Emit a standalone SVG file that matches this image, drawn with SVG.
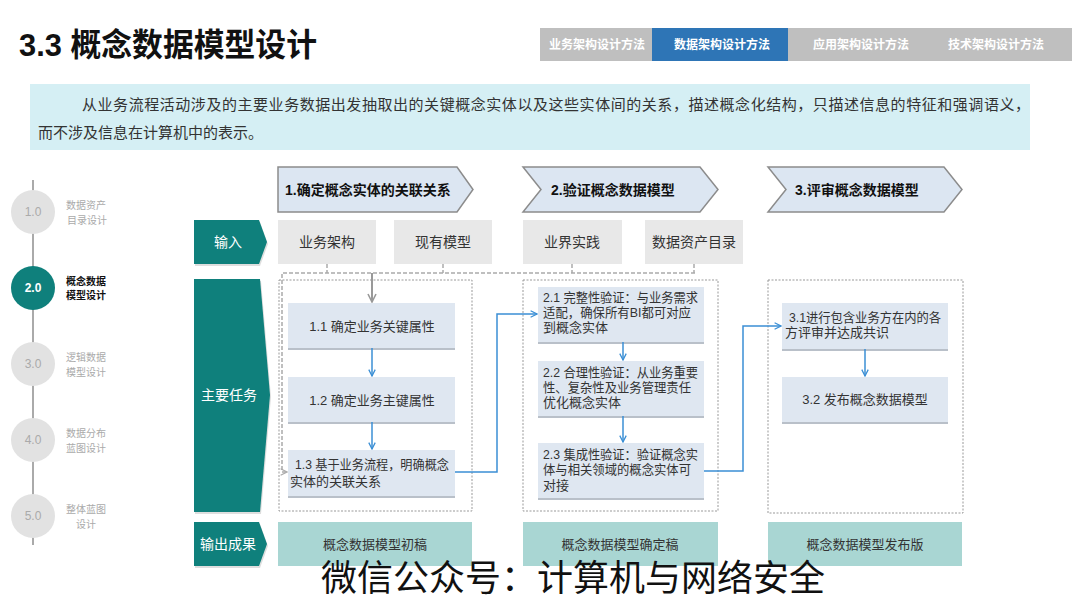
<svg xmlns="http://www.w3.org/2000/svg" width="1080" height="608" viewBox="0 0 1080 608">
<defs>
<style>
text{font-family:"Liberation Sans","Noto Sans CJK SC",sans-serif;}
.tab{font-size:12px;font-weight:bold;fill:#fff;text-anchor:middle;}
.desc{font-size:15px;fill:#333;}
.tl{font-size:10px;fill:#aaa;text-anchor:middle;}
.tln{font-size:12px;fill:#aaa;text-anchor:middle;}
.hdr{fill:#dce6f2;stroke:#8c8c8c;stroke-width:1.5;}
.hdrt{font-size:14px;font-weight:bold;fill:#111;}
.row{fill:#0f807c;}
.rowt{font-size:14px;fill:#fff;text-anchor:middle;}
.inp{fill:#e8e8e8;}
.inpt{font-size:14px;fill:#333;text-anchor:middle;}
.dash{fill:none;stroke:#999;stroke-width:1;stroke-dasharray:2,1.5;}
.dash2{fill:none;stroke:#aaa;stroke-width:1.5;stroke-dasharray:4,2;}
.task{fill:#dfe7f1;}
.shadow{fill:#b9c0c9;}
.tt{font-size:13px;fill:#333;}
.ttc{font-size:13px;fill:#333;text-anchor:middle;}
.out{fill:#a9d6d3;}
.outt{font-size:13px;fill:#333;text-anchor:middle;}
.blue{fill:none;stroke:#3b8fd5;stroke-width:1.5;}
.gray{fill:none;stroke:#999;stroke-width:2;}
</style>
<marker id="ab" viewBox="0 0 10 10" refX="9" refY="5" markerWidth="8" markerHeight="8" orient="auto" markerUnits="userSpaceOnUse">
<path d="M1,1 L9,5 L1,9" fill="none" stroke="#3b8fd5" stroke-width="1.6"/>
</marker>
<marker id="ag" viewBox="0 0 10 10" refX="9" refY="5" markerWidth="10" markerHeight="10" orient="auto" markerUnits="userSpaceOnUse">
<path d="M1,1 L9,5 L1,9" fill="none" stroke="#999" stroke-width="1.6"/>
</marker>
<marker id="ag2" viewBox="0 0 10 10" refX="9" refY="5" markerWidth="8" markerHeight="8" orient="auto" markerUnits="userSpaceOnUse">
<path d="M1,1 L9,5 L1,9" fill="none" stroke="#aaa" stroke-width="1.4"/>
</marker>
</defs>
<rect width="1080" height="608" fill="#fff"/>

<g id="title">
<text x="19" y="56" font-size="32" font-weight="bold" fill="#111" textLength="298" lengthAdjust="spacingAndGlyphs">3.3 概念数据模型设计</text>
</g>

<g id="tabs">
<rect x="540" y="28" width="112" height="33" fill="#bfbfbf"/>
<rect x="652" y="28" width="136" height="33" fill="#2e75b6"/>
<rect x="788" y="28" width="132" height="33" fill="#bfbfbf"/>
<rect x="920" y="28" width="152" height="33" fill="#bfbfbf"/>
<text class="tab" x="597" y="49">业务架构设计方法</text>
<text class="tab" x="722" y="49">数据架构设计方法</text>
<text class="tab" x="861" y="49">应用架构设计方法</text>
<text class="tab" x="996" y="49">技术架构设计方法</text>
</g>

<g id="description">
<rect x="30" y="84" width="1000" height="66" fill="#d5eff4"/>
<text class="desc" x="82" y="110" textLength="948" lengthAdjust="spacing">从业务流程活动涉及的主要业务数据出发抽取出的关键概念实体以及这些实体间的关系，描述概念化结构，只描述信息的特征和强调语义，</text>
<text class="desc" x="38" y="138">而不涉及信息在计算机中的表示。</text>
</g>

<g id="timeline">
<line x1="33" y1="180" x2="33" y2="545" stroke="#aaa" stroke-width="2"/>
<g id="step1">
<circle cx="33" cy="212" r="22" fill="#e2e2e2"/>
<text class="tln" x="33" y="216">1.0</text>
<text class="tl" x="86" y="209">数据资产</text>
<text class="tl" x="87" y="224">目录设计</text>
</g>
<g id="step2">
<circle cx="33" cy="288" r="22" fill="#0f807c"/>
<text x="33" y="292" font-size="12" font-weight="bold" fill="#fff" text-anchor="middle">2.0</text>
<text x="66" y="285" font-size="10" font-weight="bold" fill="#111">概念数据</text>
<text x="66" y="299" font-size="10" font-weight="bold" fill="#111">模型设计</text>
</g>
<g id="step3">
<circle cx="33" cy="364" r="22" fill="#e2e2e2"/>
<text class="tln" x="33" y="368">3.0</text>
<text class="tl" x="86" y="361">逻辑数据</text>
<text class="tl" x="86" y="376">模型设计</text>
</g>
<g id="step4">
<circle cx="33" cy="440" r="22" fill="#e2e2e2"/>
<text class="tln" x="33" y="444">4.0</text>
<text class="tl" x="86" y="437">数据分布</text>
<text class="tl" x="86" y="452">蓝图设计</text>
</g>
<g id="step5">
<circle cx="33" cy="516" r="22" fill="#e2e2e2"/>
<text class="tln" x="33" y="520">5.0</text>
<text class="tl" x="86" y="513">整体蓝图</text>
<text class="tl" x="86" y="528">设计</text>
</g>
</g>

<g id="headers">
<g id="h1">
<polygon class="hdr" points="278,167 457,167 473,189.5 457,212 278,212"/>
<text class="hdrt" x="285" y="195">1.确定概念实体的关联关系</text>
</g>
<g id="h2">
<polygon class="hdr" points="523,167 700,167 718,189.5 700,212 523,212 541,189.5"/>
<text class="hdrt" x="551" y="195">2.验证概念数据模型</text>
</g>
<g id="h3">
<polygon class="hdr" points="768,167 944,167 962,189.5 944,212 768,212 786,189.5"/>
<text class="hdrt" x="795" y="195">3.评审概念数据模型</text>
</g>
</g>

<g id="rowlabels">
<g id="r-input">
<polygon points="195,222 260,222 268,244 260,266 195,266" fill="#c8c8c8" opacity="0.6"/>
<polygon class="row" points="194,220 259,220 267,242 259,264 194,264"/>
<text class="rowt" x="228" y="247">输入</text>
</g>
<g id="r-task">
<polygon points="195,281 261,281 271,397 261,514 195,514" fill="#c8c8c8" opacity="0.6"/>
<polygon class="row" points="194,279 260,279 270,395 260,512 194,512"/>
<text class="rowt" x="229" y="400">主要任务</text>
</g>
<g id="r-output">
<polygon points="195,524 260,524 268,546 260,568 195,568" fill="#c8c8c8" opacity="0.6"/>
<polygon class="row" points="194,522 259,522 267,544 259,566 194,566"/>
<text class="rowt" x="228" y="549">输出成果</text>
</g>
</g>

<g id="inputs">
<g id="in1"><rect class="inp" x="278" y="220" width="98" height="44"/><text class="inpt" x="327" y="247">业务架构</text></g>
<g id="in2"><rect class="inp" x="394" y="220" width="98" height="44"/><text class="inpt" x="443" y="247">现有模型</text></g>
<g id="in3"><rect class="inp" x="523" y="220" width="99" height="44"/><text class="inpt" x="572" y="247">业界实践</text></g>
<g id="in4"><rect class="inp" x="645" y="220" width="98" height="44"/><text class="inpt" x="694" y="247">数据资产目录</text></g>
</g>

<g id="taskframes">
<rect class="dash" x="279" y="280" width="193" height="231"/>
<rect class="dash" x="523" y="280" width="195" height="231"/>
<rect class="dash" x="768" y="280" width="195" height="233"/>
</g>

<g id="tasks">
<g id="t11">
<rect class="shadow" x="288" y="305" width="167" height="45"/>
<rect class="task" x="288" y="303" width="167" height="45"/>
<text class="ttc" x="372" y="331">1.1 确定业务关键属性</text>
</g>
<g id="t12">
<rect class="shadow" x="288" y="379" width="167" height="45"/>
<rect class="task" x="288" y="377" width="167" height="45"/>
<text class="ttc" x="372" y="405">1.2 确定业务主键属性</text>
</g>
<g id="t13">
<rect class="shadow" x="288" y="452" width="167" height="46"/>
<rect class="task" x="288" y="450" width="167" height="46"/>
<text class="tt" x="295" y="469" textLength="154" lengthAdjust="spacingAndGlyphs">1.3 基于业务流程，明确概念</text>
<text class="tt" x="290" y="486">实体的关联关系</text>
</g>
<g id="t21">
<rect class="shadow" x="538" y="289" width="166" height="55"/>
<rect class="task" x="538" y="287" width="166" height="55"/>
<text class="tt" x="543" y="302" textLength="155" lengthAdjust="spacingAndGlyphs">2.1 完整性验证：与业务需求</text>
<text class="tt" x="543" y="317" textLength="148" lengthAdjust="spacingAndGlyphs">适配，确保所有BI都可对应</text>
<text class="tt" x="543" y="332">到概念实体</text>
</g>
<g id="t22">
<rect class="shadow" x="538" y="363" width="166" height="55"/>
<rect class="task" x="538" y="361" width="166" height="55"/>
<text class="tt" x="543" y="377" textLength="155" lengthAdjust="spacingAndGlyphs">2.2 合理性验证：从业务重要</text>
<text class="tt" x="543" y="392" textLength="148" lengthAdjust="spacingAndGlyphs">性、复杂性及业务管理责任</text>
<text class="tt" x="543" y="407">优化概念实体</text>
</g>
<g id="t23">
<rect class="shadow" x="538" y="445" width="166" height="55"/>
<rect class="task" x="538" y="443" width="166" height="55"/>
<text class="tt" x="543" y="459" textLength="155" lengthAdjust="spacingAndGlyphs">2.3 集成性验证：验证概念实</text>
<text class="tt" x="543" y="474" textLength="148" lengthAdjust="spacingAndGlyphs">体与相关领域的概念实体可</text>
<text class="tt" x="543" y="490">对接</text>
</g>
<g id="t31">
<rect class="shadow" x="782" y="305" width="166" height="46"/>
<rect class="task" x="782" y="303" width="166" height="46"/>
<text class="tt" x="789" y="322" textLength="152" lengthAdjust="spacingAndGlyphs">3.1进行包含业务方在内的各</text>
<text class="tt" x="785" y="337">方评审并达成共识</text>
</g>
<g id="t32">
<rect class="shadow" x="782" y="379" width="166" height="45"/>
<rect class="task" x="782" y="377" width="166" height="45"/>
<text class="ttc" x="865" y="404">3.2 发布概念数据模型</text>
</g>
</g>

<g id="outputs">
<g id="o1"><rect class="out" x="278" y="522" width="194" height="44"/><text class="outt" x="375" y="549">概念数据模型初稿</text></g>
<g id="o2"><rect class="out" x="523" y="522" width="195" height="44"/><text class="outt" x="620" y="549">概念数据模型确定稿</text></g>
<g id="o3"><rect class="out" x="768" y="522" width="194" height="44"/><text class="outt" x="865" y="549">概念数据模型发布版</text></g>
</g>

<g id="connectors">
<path class="dash2" d="M327,264 V273 M443,264 V273 M572,264 V273 M694,264 V273"/>
<path class="dash2" d="M695,273 H282 V472 H287" marker-end="url(#ag2)"/>
<path class="gray" d="M372,273 V302" marker-end="url(#ag)"/>
<path class="blue" d="M372,348 V376" marker-end="url(#ab)"/>
<path class="blue" d="M372,422 V449" marker-end="url(#ab)"/>
<path class="blue" d="M455,472 H497 V314 H537" marker-end="url(#ab)"/>
<path class="blue" d="M623,342 V360" marker-end="url(#ab)"/>
<path class="blue" d="M623,416 V442" marker-end="url(#ab)"/>
<path class="blue" d="M704,471 H743 V326 H781" marker-end="url(#ab)"/>
<path class="blue" d="M865,349 V376" marker-end="url(#ab)"/>
</g>

<g id="watermark">
<text x="321" y="591" font-size="36" fill="#111" font-family="'Noto Sans CJK SC',sans-serif">微信公众号：计算机与网络安全</text>
</g>
</svg>
